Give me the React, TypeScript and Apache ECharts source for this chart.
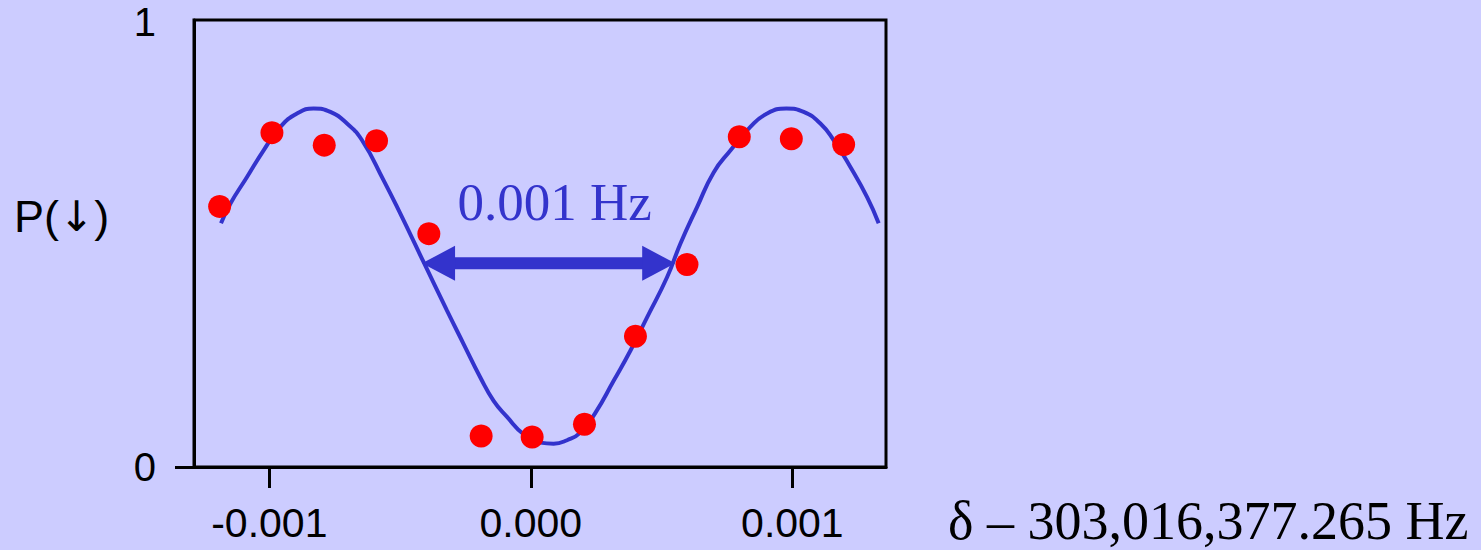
import React, { useEffect, useRef } from "react";
import * as echarts from "echarts";

// Measured points: detuning offset (Hz) and spin-down probability
const pointX = [-0.00119, -0.00099, -0.00079, -0.00059, -0.00039, -0.00019, 0.000005, 0.000205, 0.0004, 0.000597, 0.000797, 0.000996, 0.001196];
const pointY = [0.583, 0.748, 0.72, 0.73, 0.522, 0.0695, 0.0673, 0.0957, 0.2926, 0.4529, 0.7388, 0.7343, 0.7213];

// Fitted curve
const curveX = [
  -0.0011847, -0.0011491, -0.0010853, -0.0010218, -0.0009579, -0.0008941, -0.0008306, -0.0007667,
  -0.0007029, -0.0006455, -0.0005629, -0.000499, -0.0004099, -0.0003205, -0.000257, -0.0001931,
  -0.0001423, -0.000091, -0.0000275, 0.0000363, 0.0000872, 0.0001384, 0.0001893, 0.0002467,
  0.0003166, 0.0003805, 0.0004444, 0.0005208, 0.0005717, 0.0006356, 0.000699, 0.0007629,
  0.0008394, 0.0009033, 0.0009771, 0.0010432, 0.0011071, 0.001158, 0.0012218, 0.0012857, 0.00133,
];
const curveY = [
  0.5455, 0.589, 0.6487, 0.7085, 0.7608, 0.7908, 0.802, 0.7944,
  0.7684, 0.7309, 0.6413, 0.5666, 0.4581, 0.3498, 0.2751, 0.2002,
  0.148, 0.1121, 0.0733, 0.0545, 0.0522, 0.0599, 0.0769, 0.1211,
  0.1928, 0.2601, 0.3348, 0.4244, 0.4993, 0.5814, 0.659, 0.708,
  0.7608, 0.7908, 0.802, 0.7944, 0.7684, 0.7309, 0.6711, 0.6038, 0.5455,
];

const xTicks = [-0.001, 0, 0.001];
const yTicks = [0, 1];
const xMin = -0.001288;
const xMax = 0.001358;

// Annotation: linewidth arrow
const arrowFrom = [-0.000416, 0.4557];
const arrowTo = [0.000552, 0.4557];
const arrowLabelPos = [0.0000911, 0.5933];
const arrowLabel = "0.001 Hz";
const xAxisTitle = "δ – 303,016,377.265 Hz";

const BLUE = "#3333cc";

export default function App() {
  const ref = useRef<HTMLDivElement>(null);
  useEffect(() => {
    document.body.style.margin = "0";
    document.body.style.background = "#ccccff";
    const chart = echarts.init(ref.current as HTMLDivElement, null, { renderer: "svg" });
    const fmt = (v: number) => (Math.abs(v) < 1e-12 ? "0.000" : v.toFixed(3));
    chart.setOption({
      animation: false,
      backgroundColor: "#ccccff",
      grid: {
        left: 194,
        right: 595,
        top: 20,
        bottom: 83,
        outerBoundsMode: "none",
        containLabel: false,
        show: true,
        borderColor: "#000",
        borderWidth: 3,
        backgroundColor: "transparent",
      },
      xAxis: {
        type: "value",
        min: xMin,
        max: xMax,
        splitLine: { show: false },
        axisLine: { show: true, onZero: false, lineStyle: { color: "#000", width: 3 } },
        axisTick: { show: true, customValues: xTicks, length: 21, lineStyle: { color: "#000", width: 3 } },
        axisLabel: {
          customValues: xTicks,
          formatter: fmt,
          fontSize: 41,
          fontFamily: "Liberation Sans",
          color: "#000",
          margin: 35,
        },
      },
      yAxis: {
        type: "value",
        min: 0,
        max: 1,
        splitLine: { show: false },
        axisLine: { show: true, onZero: false, lineStyle: { color: "#000", width: 3 } },
        axisTick: { show: true, customValues: [0], length: 19, lineStyle: { color: "#000", width: 3 } },
        axisLabel: {
          customValues: yTicks,
          formatter: (v: number) => (v >= 1 ? "{t|" + v + "}" : "{b|" + v + "}"),
          fontSize: 40,
          fontFamily: "Liberation Sans",
          color: "#000",
          margin: 38,
          rich: {
            t: { fontSize: 40, fontFamily: "Liberation Sans", color: "#000", lineHeight: 32, padding: [4, 0, 0, 0] },
            b: { fontSize: 40, fontFamily: "Liberation Sans", color: "#000", lineHeight: 40 },
          },
        },
      },
      series: [
        {
          type: "line",
          data: curveX.map((x, i) => [x, curveY[i]]),
          smooth: true,
          symbol: "none",
          showSymbol: false,
          lineStyle: { color: BLUE, width: 4 },
          z: 2,
        },
        {
          type: "scatter",
          data: pointX.map((x, i) => [x, pointY[i]]),
          symbolSize: 23,
          itemStyle: { color: "#ff0000", opacity: 1 },
          z: 5,
        },
      ],
    });

    const a = chart.convertToPixel({ gridIndex: 0 }, arrowFrom) as number[];
    const b = chart.convertToPixel({ gridIndex: 0 }, arrowTo) as number[];
    const l = chart.convertToPixel({ gridIndex: 0 }, arrowLabelPos) as number[];
    const headL = 33;
    const headH = 17.5;
    chart.setOption({
      graphic: [
        {
          type: "line",
          z: 3,
          shape: { x1: a[0] + headL - 2, y1: a[1], x2: b[0] - headL + 2, y2: b[1] },
          style: { stroke: BLUE, lineWidth: 12 },
        },
        {
          type: "polygon",
          z: 3,
          shape: { points: [[a[0], a[1]], [a[0] + headL, a[1] - headH], [a[0] + headL, a[1] + headH]] },
          style: { fill: BLUE },
        },
        {
          type: "polygon",
          z: 3,
          shape: { points: [[b[0], b[1]], [b[0] - headL, b[1] - headH], [b[0] - headL, b[1] + headH]] },
          style: { fill: BLUE },
        },
        {
          type: "text",
          z: 3,
          x: l[0],
          y: l[1],
          style: {
            text: arrowLabel,
            font: "53px 'Liberation Serif'",
            fill: BLUE,
            align: "center",
            verticalAlign: "middle",
            textAlign: "center",
            textVerticalAlign: "middle",
          },
        },
        {
          type: "text",
          x: 14,
          y: 216,
          style: {
            text: "{p|P(}{a|↓}{p|)}",
            rich: {
              p: { fontSize: 45, fontFamily: "Liberation Sans", fill: "#000", color: "#000" },
              a: { fontSize: 42, fontFamily: "DejaVu Sans", fill: "#000", color: "#000" },
            },
            fill: "#000",
            align: "left",
            verticalAlign: "middle",
            textAlign: "left",
            textVerticalAlign: "middle",
          },
        },
        {
          type: "text",
          x: 948,
          y: 521,
          style: {
            text: xAxisTitle,
            font: "54px 'Liberation Serif'",
            fill: "#000",
            align: "left",
            verticalAlign: "middle",
            textAlign: "left",
            textVerticalAlign: "middle",
          },
        },
      ],
    });
    return () => chart.dispose();
  }, []);
  return <div ref={ref} style={{ width: 1481, height: 550 }} />;
}
